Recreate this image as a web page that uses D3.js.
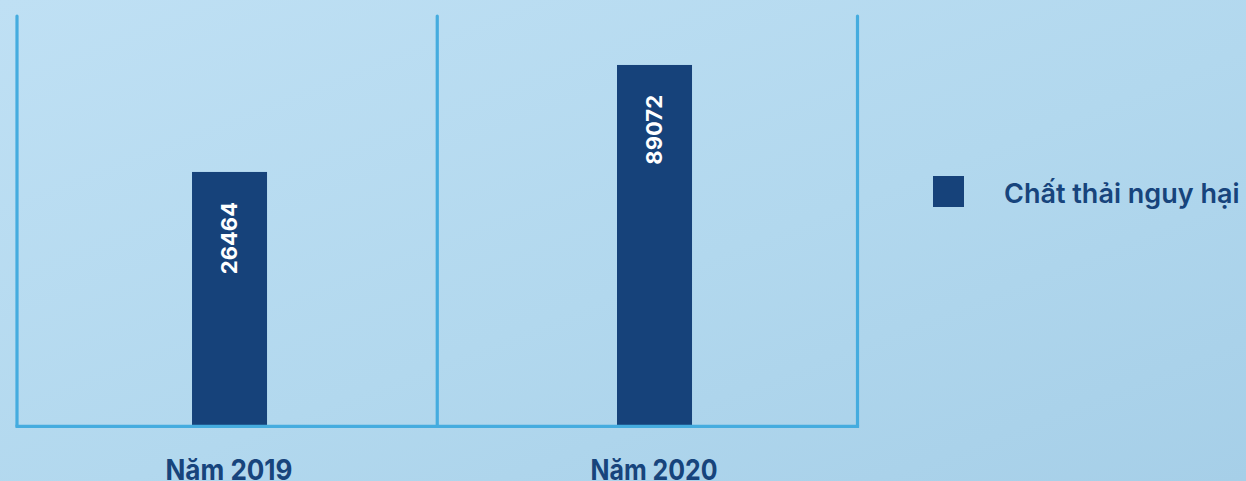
<!DOCTYPE html>
<html>
<head>
<meta charset="utf-8">
<script src="https://cdn.jsdelivr.net/npm/d3@7"></script>
<style>
  html, body { margin: 0; padding: 0; overflow: hidden; }
  svg { display: block; }
</style>
</head>
<body>
<svg id="chart" width="1246" height="481"></svg>
<script>
// Hazardous waste volume by year
const categories = ["Năm 2019", "Năm 2020"];
const values = [26464, 89072];
const seriesName = "Chất thải nguy hại";

const W = 1246, H = 481;
const svg = d3.select("#chart");

// background gradient
const defs = svg.append("defs");
const grad = defs.append("linearGradient")
  .attr("id", "bg").attr("x1", "0%").attr("y1", "0%").attr("x2", "100%").attr("y2", "100%");
grad.append("stop").attr("offset", "0%").attr("stop-color", "#bfe0f4");
grad.append("stop").attr("offset", "55%").attr("stop-color", "#b2d8ee");
grad.append("stop").attr("offset", "100%").attr("stop-color", "#a6cfe8");
svg.append("rect").attr("width", W).attr("height", H).attr("fill", "url(#bg)");

const plotLeft = 17, plotRight = 857.5, plotTop = 15, plotBase = 425;
const barColor = "#16427a";
const lineColor = "#45acdf";
const textColor = "#17447c";

// category slots (separated by vertical rules)
const xSlot = d3.scaleBand().domain(categories).range([plotLeft, plotRight]).padding(0);
// bars inside the slots
const xBar = d3.scaleBand().domain(categories).range([plotLeft, plotRight])
  .paddingInner(0.8235).paddingOuter(0.4006).align(0.514);

const y = d3.scaleLog().domain([1500, 157000]).range([plotBase, plotTop]);

// bars
svg.append("g").selectAll("rect").data(values).join("rect")
  .attr("x", (d, i) => xBar(categories[i]))
  .attr("width", xBar.bandwidth())
  .attr("y", d => y(d))
  .attr("height", d => plotBase - y(d))
  .attr("fill", barColor);

// value labels, rotated inside the bars
svg.append("g").selectAll("text").data(values).join("text")
  .attr("transform", (d, i) => `translate(${xBar(categories[i]) + xBar.bandwidth() / 2 - 0.5},${y(d) + 30}) rotate(-90)`)
  .attr("text-anchor", "end")
  .attr("dy", "0.36em")
  .attr("fill", "#ffffff")
  .style("font-family", "Inter, 'Noto Sans', sans-serif")
  .style("font-weight", 700)
  .style("font-size", "22px")
  .text(d => d);

// frame: vertical rules at slot edges and baseline
const edges = categories.map(c => xSlot(c)).concat([plotRight]);
svg.append("g").selectAll("line").data(edges).join("line")
  .attr("x1", d => d).attr("x2", d => d)
  .attr("y1", plotTop + 1).attr("y2", plotBase + 1)
  .attr("stroke", lineColor).attr("stroke-width", 3.2)
  .attr("stroke-linecap", "round");
svg.append("line")
  .attr("x1", plotLeft - 1.5).attr("x2", plotRight + 1.6)
  .attr("y1", plotBase + 1.3).attr("y2", plotBase + 1.3)
  .attr("stroke", lineColor).attr("stroke-width", 3.2);

// category labels
svg.append("g").selectAll("text").data(categories).join("text")
  .attr("x", c => xBar(c) + xBar.bandwidth() / 2 - 0.5)
  .attr("y", 479.5)
  .attr("text-anchor", "middle")
  .attr("textLength", 127)
  .attr("lengthAdjust", "spacingAndGlyphs")
  .attr("fill", textColor)
  .style("font-family", "Inter, 'Noto Sans', sans-serif")
  .style("font-weight", 700)
  .style("font-size", "28.5px")
  .text(c => c);

// legend
const legend = svg.append("g").attr("transform", "translate(933,176)");
legend.append("rect").attr("width", 31).attr("height", 31).attr("fill", barColor);
legend.append("text")
  .attr("x", 71).attr("y", 27)
  .attr("fill", textColor)
  .style("font-family", "Inter, 'Noto Sans', sans-serif")
  .style("font-weight", 600)
  .style("font-size", "27px")
  .text(seriesName);
</script>
</body>
</html>
